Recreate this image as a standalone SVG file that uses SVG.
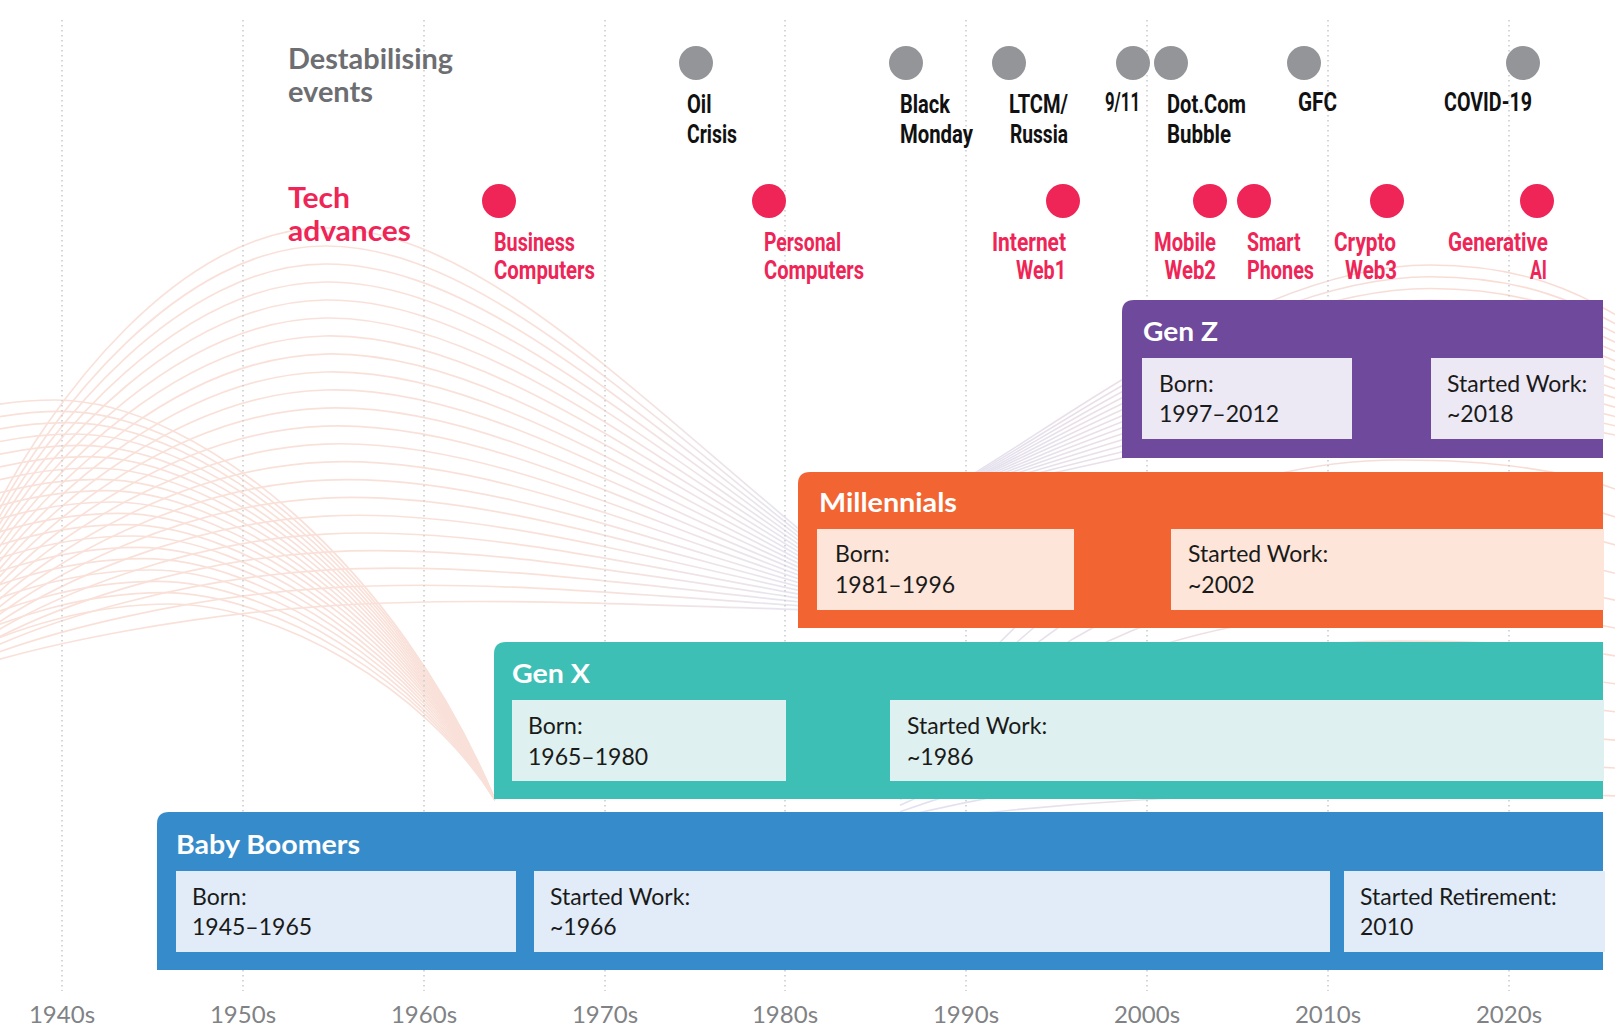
<svg xmlns="http://www.w3.org/2000/svg" xmlns:xlink="http://www.w3.org/1999/xlink" width="1615" height="1029" viewBox="0 0 1615 1029">
<style>
.hd{font-family:Lato,"Open Sans",sans-serif;font-weight:700;font-size:28px;fill:#6d6e71}
.ht{font-family:Lato,"Open Sans",sans-serif;font-weight:700;font-size:28px;fill:#ee2556}
.ev{font-family:Roboto,"Liberation Sans",sans-serif;font-weight:700;font-size:25px;fill:#111}
.tv{font-family:Roboto,"Liberation Sans",sans-serif;font-weight:700;font-size:25px;fill:#ee2556}
.gt{font-family:Lato,"Open Sans",sans-serif;font-weight:700;font-size:27px;fill:#fff}
.bt{font-family:Lato,"Liberation Sans",sans-serif;font-weight:400;font-size:23px;fill:#1a1a1a}
.dec{font-family:Lato,"Liberation Sans",sans-serif;font-weight:400;font-size:24px;fill:#808285;text-anchor:middle}
.grid{stroke:#cbcccf;stroke-width:1.6;stroke-dasharray:1.6 3.4;fill:none}
.gd{fill:#939598}
.rd{fill:#ee2556}
.wv{fill:none;vector-effect:non-scaling-stroke}
</style>
<defs>
<linearGradient id="gH" gradientUnits="userSpaceOnUse" x1="0" y1="0" x2="800" y2="0">
<stop offset="0.72" stop-color="#f9e1d9"/><stop offset="1" stop-color="#e6e5f0"/>
</linearGradient>
<linearGradient id="gR" gradientUnits="userSpaceOnUse" x1="950" y1="0" x2="1450" y2="0">
<stop offset="0" stop-color="#e3e1f0"/><stop offset="1" stop-color="#f9ddd4"/>
</linearGradient>
<path id="h0" class="wv" d="M-10,520 C50,400 180,228 325,228 C470,228 620,380 800,530"/>
<path id="w0" class="wv" d="M-250,520 C-150,440 -40,400 55,400 C200,400 400,570 495,800"/>
<path id="r0" class="wv" d="M800,560 C920,520 1020,440 1130,375 C1250,300 1350,265 1430,265 C1520,265 1580,290 1640,330"/>
<path id="q0" class="wv" d="M900,760 C1050,560 1200,460 1400,460 C1530,460 1610,480 1660,510"/>
</defs>

<g id="background-waves">
<g id="waves-h" stroke="url(#gH)" stroke-width="1.7" fill="none">
<use href="#h0"/>
<use href="#h0" transform="matrix(1,-.00316,0,.9579,0,28.63)"/>
<use href="#h0" transform="matrix(1,-.00632,0,.9158,0,57.26)"/>
<use href="#h0" transform="matrix(1,-.00947,0,.8737,0,85.88)"/>
<use href="#h0" transform="matrix(1,-.01263,0,.8316,0,114.51)"/>
<use href="#h0" transform="matrix(1,-.01579,0,.7895,0,143.14)"/>
<use href="#h0" transform="matrix(1,-.01895,0,.7474,0,171.77)"/>
<use href="#h0" transform="matrix(1,-.0221,0,.7053,0,200.4)"/>
<use href="#h0" transform="matrix(1,-.02526,0,.6632,0,229.02)"/>
<use href="#h0" transform="matrix(1,-.02842,0,.6211,0,257.65)"/>
<use href="#h0" transform="matrix(1,-.03158,0,.579,0,286.28)"/>
<use href="#h0" transform="matrix(1,-.03473,0,.5369,0,314.91)"/>
<use href="#h0" transform="matrix(1,-.03789,0,.4948,0,343.54)"/>
<use href="#h0" transform="matrix(1,-.04105,0,.4527,0,372.16)"/>
<use href="#h0" transform="matrix(1,-.0442,0,.4106,0,400.79)"/>
<use href="#h0" transform="matrix(1,-.04736,0,.3685,0,429.42)"/>
<use href="#h0" transform="matrix(1,-.05052,0,.3264,0,458.05)"/>
<use href="#h0" transform="matrix(1,-.05368,0,.2843,0,486.68)"/>
<use href="#h0" transform="matrix(1,-.05684,0,.2422,0,515.3)"/>
<use href="#h0" transform="matrix(1,-.06,0,.2001,0,543.93)"/>
<use href="#h0" transform="matrix(1,-.06315,0,.158,0,572.56)"/>
<use href="#h0" transform="matrix(1,-.06631,0,.1159,0,601.19)"/>
</g>
<g id="waves-w" stroke="#f9e1d9" stroke-width="1.7" fill="none">
<use href="#w0"/>
<use href="#w0" transform="matrix(.9855,0,0,.9717,7.18,22.67)"/>
<use href="#w0" transform="matrix(.971,0,0,.9433,14.36,45.33)"/>
<use href="#w0" transform="matrix(.9565,0,0,.915,21.53,68)"/>
<use href="#w0" transform="matrix(.942,0,0,.8867,28.71,90.67)"/>
<use href="#w0" transform="matrix(.9275,0,0,.8583,35.89,113.33)"/>
<use href="#w0" transform="matrix(.913,0,0,.83,43.07,136)"/>
<use href="#w0" transform="matrix(.8985,0,0,.8017,50.24,158.67)"/>
<use href="#w0" transform="matrix(.884,0,0,.7733,57.42,181.33)"/>
<use href="#w0" transform="matrix(.8695,0,0,.745,64.6,204)"/>
<use href="#w0" transform="matrix(.855,0,0,.7167,71.78,226.67)"/>
<use href="#w0" transform="matrix(.8405,0,0,.6883,78.96,249.33)"/>
<use href="#w0" transform="matrix(.826,0,0,.66,86.13,272)"/>
<use href="#w0" transform="matrix(.8115,0,0,.6317,93.31,294.67)"/>
<use href="#w0" transform="matrix(.797,0,0,.6033,100.49,317.33)"/>
<use href="#w0" transform="matrix(.7825,0,0,.575,107.67,340)"/>
<use href="#w0" transform="matrix(.768,0,0,.5467,114.84,362.67)"/>
<use href="#w0" transform="matrix(.7535,0,0,.5183,122.02,385.33)"/>
<use href="#w0" transform="matrix(.739,0,0,.49,129.2,408)"/>
</g>
<g id="waves-r" stroke="url(#gR)" stroke-width="1.6" fill="none">
<use href="#r0"/>
<use href="#r0" transform="matrix(1,0,0,.95,0,25)"/>
<use href="#r0" transform="matrix(1,0,0,.9,0,50)"/>
<use href="#r0" transform="matrix(1,0,0,.85,0,75)"/>
<use href="#r0" transform="matrix(1,0,0,.8,0,100)"/>
<use href="#r0" transform="matrix(1,0,0,.75,0,125)"/>
<use href="#r0" transform="matrix(1,0,0,.7,0,150)"/>
<use href="#r0" transform="matrix(1,0,0,.65,0,175)"/>
<use href="#r0" transform="matrix(1,0,0,.6,0,200)"/>
<use href="#r0" transform="matrix(1,0,0,.55,0,225)"/>
<use href="#r0" transform="matrix(1,0,0,.5,0,250)"/>
<use href="#r0" transform="matrix(1,0,0,.45,0,275)"/>
<use href="#r0" transform="matrix(1,0,0,.4,0,300)"/>
<use href="#r0" transform="matrix(1,0,0,.35,0,325)"/>
</g>
<g id="waves-q" stroke="url(#gR)" stroke-width="1.6" fill="none">
<use href="#q0"/>
<use href="#q0" transform="matrix(1,0,0,.918,0,68)"/>
<use href="#q0" transform="matrix(1,0,0,.836,0,136)"/>
<use href="#q0" transform="matrix(1,0,0,.755,0,204)"/>
<use href="#q0" transform="matrix(1,0,0,.673,0,271)"/>
<use href="#q0" transform="matrix(1,0,0,.591,0,339)"/>
<use href="#q0" transform="matrix(1,0,0,.509,0,407)"/>
<use href="#q0" transform="matrix(1,0,0,.427,0,475)"/>
<use href="#q0" transform="matrix(1,0,0,.345,0,543)"/>
<use href="#q0" transform="matrix(1,0,0,.264,0,611)"/>
<use href="#q0" transform="matrix(1,0,0,.182,0,679)"/>
<use href="#q0" transform="matrix(1,0,0,.1,0,747)"/>
</g>
</g>

<g id="grid">
<line class="grid" x1="62" y1="20" x2="62" y2="991"/>
<line class="grid" x1="243" y1="20" x2="243" y2="991"/>
<line class="grid" x1="424" y1="20" x2="424" y2="991"/>
<line class="grid" x1="605" y1="20" x2="605" y2="991"/>
<line class="grid" x1="785" y1="20" x2="785" y2="991"/>
<line class="grid" x1="966" y1="20" x2="966" y2="991"/>
<line class="grid" x1="1147" y1="20" x2="1147" y2="991"/>
<line class="grid" x1="1328" y1="20" x2="1328" y2="991"/>
<line class="grid" x1="1509" y1="20" x2="1509" y2="991"/>
</g>

<g id="decades">
<text class="dec" x="62" y="1023">1940s</text>
<text class="dec" x="243" y="1023">1950s</text>
<text class="dec" x="424" y="1023">1960s</text>
<text class="dec" x="605" y="1023">1970s</text>
<text class="dec" x="785" y="1023">1980s</text>
<text class="dec" x="966" y="1023">1990s</text>
<text class="dec" x="1147" y="1023">2000s</text>
<text class="dec" x="1328" y="1023">2010s</text>
<text class="dec" x="1509" y="1023">2020s</text>
</g>

<g id="row-headings">
<text class="hd" x="288" y="69" textLength="165" lengthAdjust="spacingAndGlyphs">Destabilising</text>
<text class="hd" x="288" y="102" textLength="85" lengthAdjust="spacingAndGlyphs">events</text>
<text class="ht" x="288" y="208" textLength="62" lengthAdjust="spacingAndGlyphs">Tech</text>
<text class="ht" x="288" y="241" textLength="123" lengthAdjust="spacingAndGlyphs">advances</text>
</g>

<g id="events">
<g id="ev-oil"><circle class="gd" cx="696" cy="63" r="17"/><text class="ev" x="687" y="113" textLength="24.5" lengthAdjust="spacingAndGlyphs">Oil</text><text class="ev" x="687" y="143" textLength="50" lengthAdjust="spacingAndGlyphs">Crisis</text></g>
<g id="ev-black-monday"><circle class="gd" cx="906" cy="63" r="17"/><text class="ev" x="900" y="113" textLength="50" lengthAdjust="spacingAndGlyphs">Black</text><text class="ev" x="900" y="143" textLength="73" lengthAdjust="spacingAndGlyphs">Monday</text></g>
<g id="ev-ltcm"><circle class="gd" cx="1009" cy="63" r="17"/><text class="ev" x="1009" y="113" textLength="59" lengthAdjust="spacingAndGlyphs">LTCM/</text><text class="ev" x="1010" y="143" textLength="58" lengthAdjust="spacingAndGlyphs">Russia</text></g>
<g id="ev-911"><circle class="gd" cx="1133" cy="63" r="17"/><text class="ev" x="1105" y="111" textLength="35" lengthAdjust="spacingAndGlyphs">9/11</text></g>
<g id="ev-dotcom"><circle class="gd" cx="1171" cy="63" r="17"/><text class="ev" x="1167" y="113" textLength="79" lengthAdjust="spacingAndGlyphs">Dot.Com</text><text class="ev" x="1167" y="143" textLength="64" lengthAdjust="spacingAndGlyphs">Bubble</text></g>
<g id="ev-gfc"><circle class="gd" cx="1304" cy="63" r="17"/><text class="ev" x="1298" y="111" textLength="39" lengthAdjust="spacingAndGlyphs">GFC</text></g>
<g id="ev-covid"><circle class="gd" cx="1523" cy="63" r="17"/><text class="ev" x="1444" y="111" textLength="88" lengthAdjust="spacingAndGlyphs">COVID-19</text></g>
</g>

<g id="tech">
<g id="tv-business"><circle class="rd" cx="499" cy="201" r="17"/><text class="tv" x="494" y="251" textLength="81" lengthAdjust="spacingAndGlyphs">Business</text><text class="tv" x="494" y="279" textLength="101" lengthAdjust="spacingAndGlyphs">Computers</text></g>
<g id="tv-personal"><circle class="rd" cx="769" cy="201" r="17"/><text class="tv" x="764" y="251" textLength="77" lengthAdjust="spacingAndGlyphs">Personal</text><text class="tv" x="764" y="279" textLength="100" lengthAdjust="spacingAndGlyphs">Computers</text></g>
<g id="tv-internet"><circle class="rd" cx="1063" cy="201" r="17"/><text class="tv" x="992" y="251" textLength="74" lengthAdjust="spacingAndGlyphs">Internet</text><text class="tv" x="1016" y="279" textLength="50" lengthAdjust="spacingAndGlyphs">Web1</text></g>
<g id="tv-mobile"><circle class="rd" cx="1210" cy="201" r="17"/><text class="tv" x="1154" y="251" textLength="62" lengthAdjust="spacingAndGlyphs">Mobile</text><text class="tv" x="1164.5" y="279" textLength="51.5" lengthAdjust="spacingAndGlyphs">Web2</text></g>
<g id="tv-smart"><circle class="rd" cx="1254" cy="201" r="17"/><text class="tv" x="1247" y="251" textLength="53.5" lengthAdjust="spacingAndGlyphs">Smart</text><text class="tv" x="1247" y="279" textLength="67" lengthAdjust="spacingAndGlyphs">Phones</text></g>
<g id="tv-crypto"><circle class="rd" cx="1387" cy="201" r="17"/><text class="tv" x="1334" y="251" textLength="62" lengthAdjust="spacingAndGlyphs">Crypto</text><text class="tv" x="1345" y="279" textLength="52" lengthAdjust="spacingAndGlyphs">Web3</text></g>
<g id="tv-genai"><circle class="rd" cx="1537" cy="201" r="17"/><text class="tv" x="1448" y="251" textLength="100" lengthAdjust="spacingAndGlyphs">Generative</text><text class="tv" x="1530" y="279" textLength="17" lengthAdjust="spacingAndGlyphs">AI</text></g>
</g>

<g id="gen-z">
<path fill="#6f4a9c" d="M1134,300 H1603 V458 H1122 V312 Q1122,300 1134,300 Z"/>
<rect x="1142" y="358" width="210" height="81" fill="#ece8f4"/>
<rect x="1431" y="358" width="173" height="81" fill="#ece8f4"/>
<text class="gt" x="1143" y="341" textLength="75" lengthAdjust="spacingAndGlyphs">Gen Z</text>
<text class="bt" x="1159" y="392">Born:</text>
<text class="bt" x="1159" y="422">1997–2012</text>
<text class="bt" x="1447" y="392">Started Work:</text>
<text class="bt" x="1447" y="422">~2018</text>
</g>

<g id="millennials">
<path fill="#f26532" d="M810,472 H1603 V628 H798 V484 Q798,472 810,472 Z"/>
<rect x="817" y="529" width="257" height="81" fill="#fde5d9"/>
<rect x="1171" y="529" width="433" height="81" fill="#fde5d9"/>
<text class="gt" x="819" y="512" textLength="138" lengthAdjust="spacingAndGlyphs">Millennials</text>
<text class="bt" x="835" y="562">Born:</text>
<text class="bt" x="835" y="593">1981–1996</text>
<text class="bt" x="1188" y="562">Started Work:</text>
<text class="bt" x="1188" y="593">~2002</text>
</g>

<g id="gen-x">
<path fill="#3ebfb5" d="M506,642 H1603 V799 H494 V654 Q494,642 506,642 Z"/>
<rect x="512" y="700" width="274" height="81" fill="#def0ef"/>
<rect x="890" y="700" width="714" height="81" fill="#def0ef"/>
<text class="gt" x="512" y="683" textLength="78" lengthAdjust="spacingAndGlyphs">Gen X</text>
<text class="bt" x="528" y="734">Born:</text>
<text class="bt" x="528" y="765">1965–1980</text>
<text class="bt" x="907" y="734">Started Work:</text>
<text class="bt" x="907" y="765">~1986</text>
</g>

<g id="baby-boomers">
<path fill="#368cca" d="M169,812 H1603 V970 H157 V824 Q157,812 169,812 Z"/>
<rect x="176" y="871" width="340" height="81" fill="#e1ecf8"/>
<rect x="534" y="871" width="796" height="81" fill="#e1ecf8"/>
<rect x="1344" y="871" width="261" height="81" fill="#e1ecf8"/>
<text class="gt" x="176" y="854" textLength="184" lengthAdjust="spacingAndGlyphs">Baby Boomers</text>
<text class="bt" x="192" y="905">Born:</text>
<text class="bt" x="192" y="935">1945–1965</text>
<text class="bt" x="550" y="905">Started Work:</text>
<text class="bt" x="550" y="935">~1966</text>
<text class="bt" x="1360" y="905">Started Retirement:</text>
<text class="bt" x="1360" y="935">2010</text>
</g>
</svg>
